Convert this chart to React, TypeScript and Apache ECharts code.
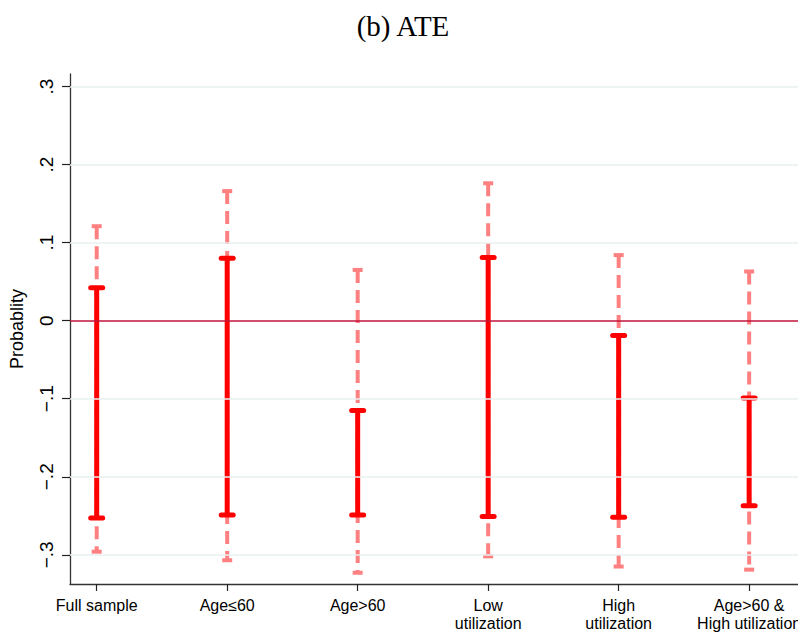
import React, { useEffect, useRef } from "react";
import * as echarts from "echarts";

const categories = [
  "Full sample",
  "Age≤60",
  "Age>60",
  "Low\nutilization",
  "High\nutilization",
  "Age>60 &\nHigh utilization",
];
// dashed (outer) interval
const outerHigh = [0.121, 0.166, 0.065, 0.176, 0.084, 0.063];
const outerLow = [-0.296, -0.307, -0.323, -0.302, -0.315, -0.319];
// solid (inner) interval
const innerHigh = [0.042, 0.080, -0.115, 0.081, -0.019, -0.099];
const innerLow = [-0.253, -0.249, -0.249, -0.251, -0.252, -0.237];
const yTicks = [-0.3, -0.2, -0.1, 0, 0.1, 0.2, 0.3];

const fmtY = (v: number) => {
  if (Math.abs(v) < 1e-9) return "0";
  const d = Math.round(Math.abs(v) * 10);
  return (v < 0 ? "\u2212" : "") + "." + d;
};

function makeRender(stroke: string, lw: number, capHalf: number, capW: number, dash: number[] | null, round: boolean) {
  return (params: any, api: any) => {
    const x = api.value(0);
    const lo = api.value(1);
    const hi = api.value(2);
    const p1 = api.coord([x, hi]);
    const p2 = api.coord([x, lo]);
    const cap = round ? "round" : "butt";
    return {
      type: "group",
      children: [
        {
          type: "line",
          shape: { x1: p1[0], y1: p1[1], x2: p2[0], y2: p2[1] },
          style: { stroke, lineWidth: lw, lineDash: dash || undefined, lineCap: "butt" },
        },
        {
          type: "line",
          shape: { x1: p1[0] - capHalf, y1: p1[1], x2: p1[0] + capHalf, y2: p1[1] },
          style: { stroke, lineWidth: capW, lineCap: cap },
        },
        {
          type: "line",
          shape: { x1: p2[0] - capHalf, y1: p2[1], x2: p2[0] + capHalf, y2: p2[1] },
          style: { stroke, lineWidth: capW, lineCap: cap },
        },
      ],
    };
  };
}

export default function App() {
  const ref = useRef<HTMLDivElement>(null);
  useEffect(() => {
    if (!ref.current) return;
    const chart = echarts.init(ref.current, null, { renderer: "svg" });
    const xPositions = categories.map((_, i) => i);
    const outerData = categories.map((_, i) => [i, outerLow[i], outerHigh[i]]);
    const innerData = categories.map((_, i) => [i, innerLow[i], innerHigh[i]]);
    chart.setOption({
      animation: false,
      backgroundColor: "#ffffff",
      title: {
        text: "(b) ATE",
        left: "center",
        top: 6,
        textStyle: {
          fontFamily: "Liberation Serif",
          fontWeight: "normal",
          fontSize: 29,
          color: "#000",
        },
      },
      grid: { left: 70, right: 4, top: 74, bottom: 46 },
      xAxis: {
        type: "value",
        min: -0.2046,
        max: 5.405,
        axisLine: { show: true, onZero: false, lineStyle: { color: "#333", width: 1.3 } },
        axisTick: {
          show: true,
          customValues: xPositions,
          length: 7,
          lineStyle: { color: "#222", width: 1.2 },
        },
        axisLabel: {
          show: true,
          customValues: xPositions,
          formatter: (v: number) => categories[Math.round(v)] ?? "",
          fontFamily: "Liberation Sans",
          fontSize: 16,
          lineHeight: 18,
          color: "#000",
          margin: 12,
        },
        splitLine: { show: false },
      },
      yAxis: {
        type: "value",
        min: -0.3374,
        max: 0.316,
        name: "Probablity",
        nameLocation: "middle",
        nameRotate: 90,
        nameGap: 44,
        nameTextStyle: { fontFamily: "Liberation Sans", fontSize: 18, color: "#000" },
        axisLine: { show: true, onZero: false, lineStyle: { color: "#333", width: 1.3 } },
        axisTick: {
          show: true,
          customValues: yTicks,
          length: 8,
          lineStyle: { color: "#222", width: 1.2 },
        },
        axisLabel: {
          show: true,
          customValues: yTicks,
          rotate: 90,
          formatter: fmtY,
          fontFamily: "Liberation Sans",
          fontSize: 19,
          color: "#000",
          margin: 14,
        },
        splitLine: { show: false },
      },
      series: [
        {
          type: "line",
          data: [],
          z: 1,
          silent: true,
          markLine: {
            silent: true,
            symbol: "none",
            label: { show: false },
            lineStyle: { color: "#e9eff1", width: 1.6, type: "solid" },
            data: yTicks.filter((v) => v !== 0).map((v) => ({ yAxis: v })),
          },
        },
        {
          type: "line",
          data: [],
          z: 2,
          silent: true,
          markLine: {
            silent: true,
            symbol: "none",
            label: { show: false },
            lineStyle: { color: "#c0143c", width: 1.6, type: "solid" },
            data: [{ yAxis: 0 }],
          },
        },
        {
          type: "custom",
          z: 3,
          renderItem: makeRender("#ff8080", 4, 5, 4, [13, 7], false),
          encode: { x: 0, y: [1, 2] },
          data: outerData,
        },
        {
          type: "custom",
          z: 4,
          renderItem: makeRender("#ff0000", 5, 6, 5, null, true),
          encode: { x: 0, y: [1, 2] },
          data: innerData,
        },
      ],
    });
    return () => chart.dispose();
  }, []);
  return <div ref={ref} style={{ width: 806, height: 632, marginLeft: -8, marginTop: -8 }} />;
}
